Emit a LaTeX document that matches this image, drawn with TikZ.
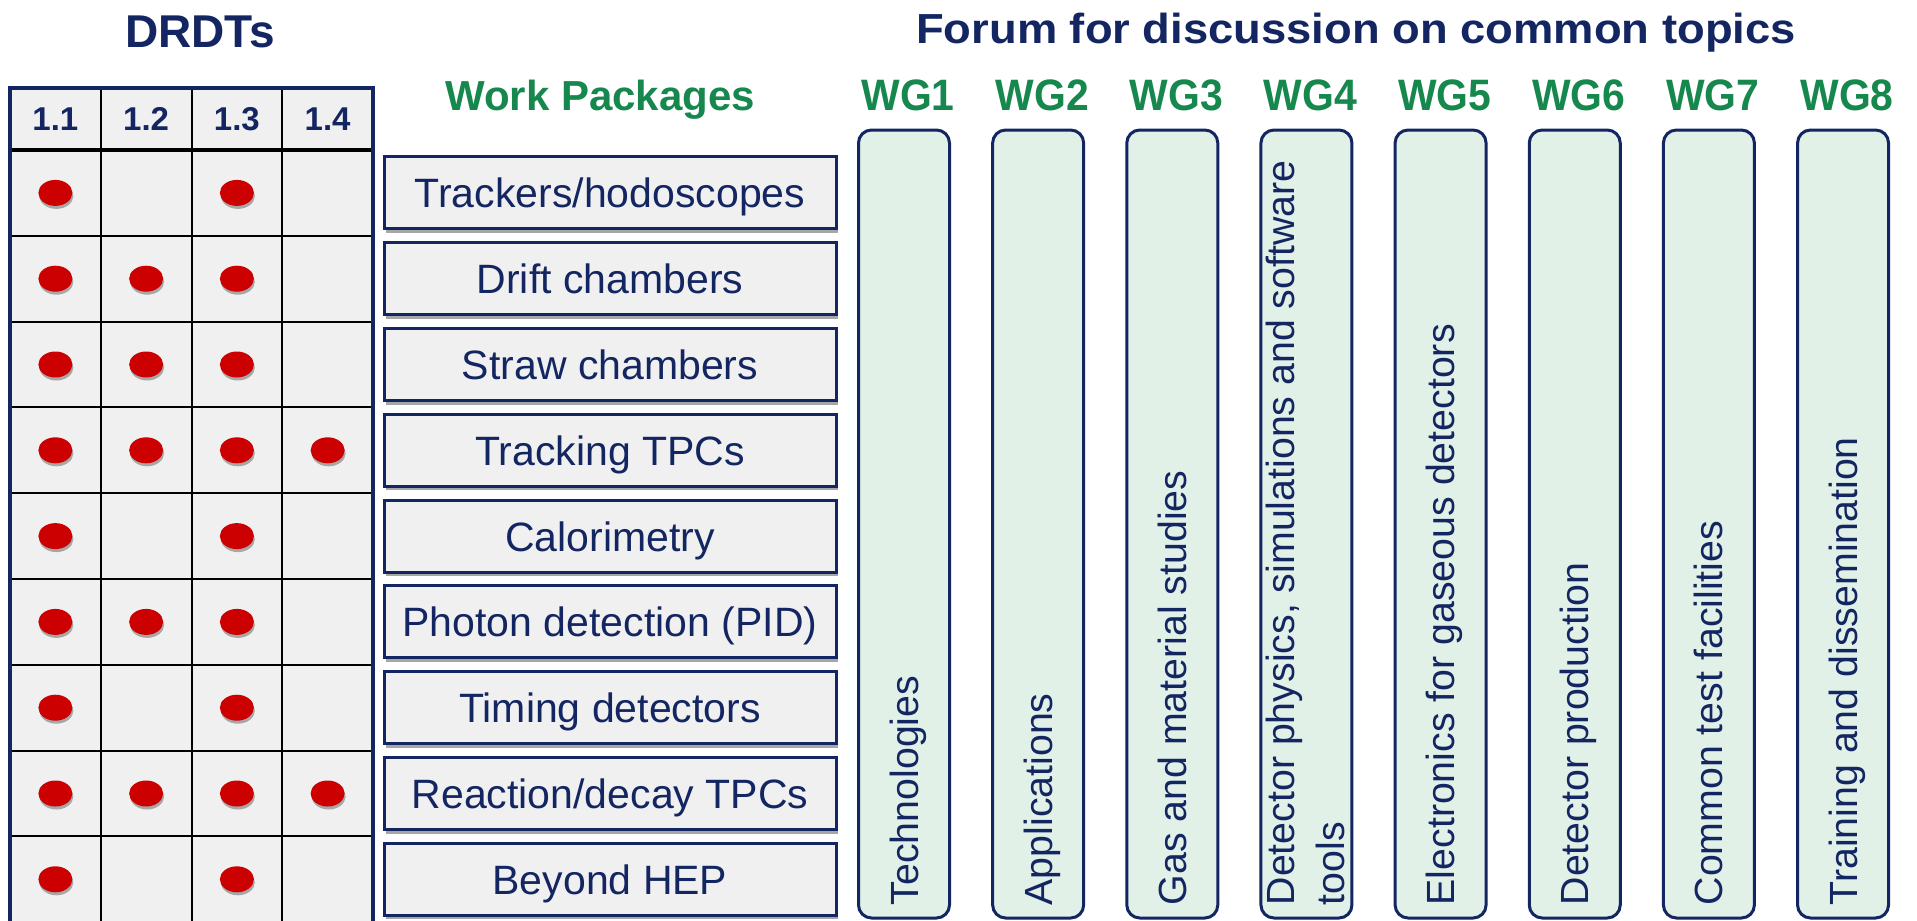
\documentclass[tikz,border=0pt]{standalone}
\usepackage{graphicx}
\usepackage{fontspec}
\setmainfont{Liberation Sans}
\usetikzlibrary{shadows,shapes.geometric}
\definecolor{navy}{RGB}{20,38,98}
\definecolor{wggreen}{RGB}{22,136,78}
\definecolor{dotred}{RGB}{204,0,0}
\definecolor{cellgray}{RGB}{240,240,240}
\definecolor{wgfill}{RGB}{225,241,232}
\begin{document}
\begin{tikzpicture}[x=1pt,y=-1pt,
  titletxt/.style={font=\fontsize{46}{50}\selectfont\bfseries, text=navy, inner sep=0, anchor=base},
  greentitle/.style={font=\fontsize{42}{48}\selectfont\bfseries, text=wggreen, inner sep=0, anchor=base},
  hdr/.style={font=\fontsize{33}{36}\selectfont\bfseries, text=navy, inner sep=0},
  cell/.style={draw=black, line width=2pt, fill=cellgray, minimum width=90.75pt, minimum height=85.8pt, inner sep=0, outer sep=0},
  hcell/.style={cell, minimum height=62pt},
  reddot/.style={ellipse, fill=dotred, minimum width=34pt, minimum height=26pt, inner sep=0,
    drop shadow={shadow xshift=1pt, shadow yshift=-3pt, opacity=0.3, fill=black}},
  wpbox/.style={draw=navy, line width=3pt, fill=cellgray, minimum width=452pt, minimum height=72pt, inner sep=0,
    text=navy, font=\fontsize{41}{46}\selectfont, text height=30pt, text depth=0pt,
    drop shadow={shadow xshift=2pt, shadow yshift=-4pt, opacity=0.35, fill=black}},
  wgbox/.style={draw=navy, line width=3pt, fill=wgfill, rounded corners=13pt, minimum width=91pt, minimum height=788pt, inner sep=0},
  wglabel/.style={font=\fontsize{44}{48}\selectfont\bfseries, text=wggreen, inner sep=0, anchor=base},
  vtext/.style={font=\fontsize{39.3}{50}\selectfont, text=navy, inner sep=0, rotate=90, anchor=base west},
  vtexttwo/.style={font=\fontsize{39.3}{50}\selectfont, text=navy, inner sep=0, rotate=90, anchor=south west, align=left},
]
\useasboundingbox (0,0) rectangle (1917,921);
\clip (0,0) rectangle (1917,921);
\fill[white] (0,0) rectangle (1917,921);

% titles
\node[titletxt] (drdts) at (200,47) {DRDTs};
\node[greentitle] (wptitle) at (600,110) {Work Packages};
\node[titletxt, font=\fontsize{42}{48}\selectfont\bfseries] (forum) at (1356,43) {\scalebox{1.08}[1]{Forum for discussion on common topics}};

% DRDT table header
\foreach \c/\lab in {1/1.1,2/1.2,3/1.3,4/1.4}{
  \node[hcell] (h\c) at ({10+90.75*(\c-0.5)},119) {};
  \node[hdr] (ht\c) at (h\c) {\lab};
}
% DRDT table body
\foreach \r in {1,...,9}{
  \foreach \c in {1,...,4}{
    \node[cell] (c\r-\c) at ({10+90.75*(\c-0.5)},{150+85.8*(\r-0.5)}) {};
  }
}
\draw[black, line width=4pt] (h1.south west) -- (h4.south east);
\draw[navy, line width=4.5pt] (10,88) rectangle (373,930);

% dots
\foreach \r/\c in {1/1,1/3, 2/1,2/2,2/3, 3/1,3/2,3/3, 4/1,4/2,4/3,4/4, 5/1,5/3, 6/1,6/2,6/3, 7/1,7/3, 8/1,8/2,8/3,8/4, 9/1,9/3}{
  \node[reddot] (d\r-\c) at (c\r-\c) {};
}

% work packages
\foreach \r/\txt in {1/{Trackers/hodoscopes}, 2/{Drift chambers}, 3/{Straw chambers}, 4/{Tracking TPCs}, 5/{Calorimetry},
  6/{Photon detection (PID)}, 7/{Timing detectors}, 8/{Reaction/decay TPCs}, 9/{Beyond HEP}}{
  \node[wpbox] (wp\r) at (610,{150+85.8*(\r-0.5)}) {\txt};
}

% working groups
\foreach \i in {1,...,8}{
  \node[wgbox] (wg\i) at ({904+134.15*(\i-1)},524) {};
  \node[wglabel] (wgl\i) at ({908+134.15*(\i-1)},110) {\scalebox{0.93}[1]{WG\i}};
}
\node[vtext] (t1) at ([xshift=14pt,yshift=14pt]wg1.south) {Technologies};
\node[vtext] (t2) at ([xshift=14pt,yshift=14pt]wg2.south) {Applications};
\node[vtext] (t3) at ([xshift=14pt,yshift=14pt]wg3.south) {Gas and material studies};
\node[vtexttwo] (t4) at ([xshift=39pt,yshift=14pt]wg4.south) {Detector physics, simulations and software\\tools};
\node[vtext] (t5) at ([xshift=14pt,yshift=14pt]wg5.south) {Electronics for gaseous detectors};
\node[vtext] (t6) at ([xshift=14pt,yshift=14pt]wg6.south) {Detector production};
\node[vtext] (t7) at ([xshift=14pt,yshift=14pt]wg7.south) {Common test facilities};
\node[vtext] (t8) at ([xshift=14pt,yshift=14pt]wg8.south) {Training and dissemination};
\end{tikzpicture}
\end{document}
